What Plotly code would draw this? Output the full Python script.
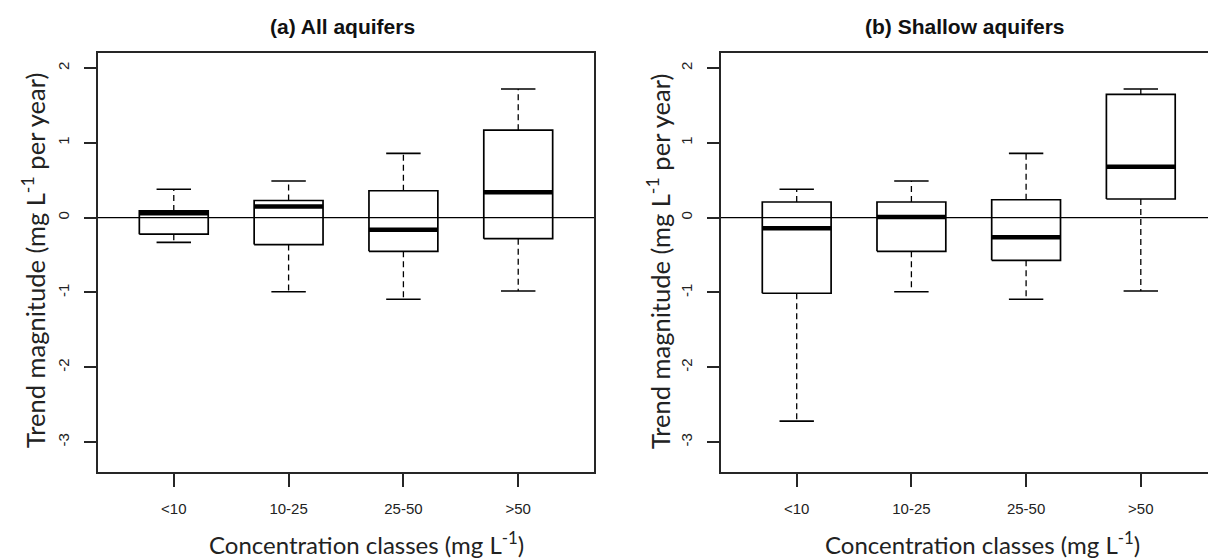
import plotly.graph_objects as go

# ---- data ----
categories = ["<10", "10-25", "25-50", ">50"]

# (a) All aquifers
a_lower  = [-0.33, -0.99, -1.09, -0.98]
a_q1     = [-0.22, -0.36, -0.45, -0.28]
a_median = [0.06, 0.15, -0.16, 0.34]
a_q3     = [0.09, 0.23, 0.36, 1.17]
a_upper  = [0.38, 0.49, 0.86, 1.72]

# (b) Shallow aquifers
b_lower  = [-2.72, -0.99, -1.09, -0.98]
b_q1     = [-1.01, -0.45, -0.57, 0.25]
b_median = [-0.14, 0.01, -0.26, 0.68]
b_q3     = [0.21, 0.21, 0.24, 1.65]
b_upper  = [0.38, 0.49, 0.86, 1.72]

panel_titles = ["<b>(a) All aquifers</b>", "<b>(b) Shallow aquifers</b>"]
x_title = "Concentration classes (mg L<sup>-1</sup>)"
y_title = "Trend magnitude (mg L<sup>-1</sup> per year)"
y_ticks = [-3, -2, -1, 0, 1, 2]

W, H = 1208, 558
BOXW = 0.6
CAPW = 0.3
TITLE_FONT = "Lato, Open Sans, sans-serif"
TICK_FONT = "Liberation Sans, Arial, sans-serif"

fig = go.Figure()


def add_panel(lower, q1, med, q3, upper, xa, ya):
    xs_box, ys_box = [], []
    xs_med, ys_med = [], []
    xs_wh, ys_wh = [], []
    xs_cap, ys_cap = [], []
    for i in range(len(categories)):
        l, r = i - BOXW / 2, i + BOXW / 2
        xs_box += [l, r, r, l, l, None]
        ys_box += [q1[i], q1[i], q3[i], q3[i], q1[i], None]
        xs_med += [l, r, None]
        ys_med += [med[i], med[i], None]
        xs_wh += [i, i, None, i, i, None]
        ys_wh += [q3[i], upper[i], None, q1[i], lower[i], None]
        cl, cr = i - CAPW / 2, i + CAPW / 2
        xs_cap += [cl, cr, None, cl, cr, None]
        ys_cap += [upper[i], upper[i], None, lower[i], lower[i], None]
    common = dict(xaxis=xa, yaxis=ya, mode="lines", hoverinfo="skip", showlegend=False)
    fig.add_trace(go.Scatter(x=xs_wh, y=ys_wh, line=dict(color="black", width=1.3, dash="6px,4px"), **common))
    fig.add_trace(go.Scatter(x=xs_cap, y=ys_cap, line=dict(color="black", width=1.6), **common))
    fig.add_trace(go.Scatter(x=xs_box, y=ys_box, fill="toself", fillcolor="white",
                             line=dict(color="black", width=1.7), **common))
    fig.add_trace(go.Scatter(x=xs_med, y=ys_med, line=dict(color="black", width=4.5), **common))


add_panel(a_lower, a_q1, a_median, a_q3, a_upper, "x", "y")
add_panel(b_lower, b_q1, b_median, b_q3, b_upper, "x2", "y2")

# empty traces so the label-only overlay axes are drawn
for xa, ya in [("x", "y3"), ("x2", "y4")]:
    fig.add_trace(go.Scatter(x=[None], y=[None], xaxis=xa, yaxis=ya, mode="lines",
                             hoverinfo="skip", showlegend=False))

ydom = [1 - 472 / H, 1 - 53 / H]
yrange = [-3.40, 2.202]
axcolor = "#262626"

xcommon = dict(
    tickmode="array", tickvals=list(range(len(categories))), ticktext=categories,
    ticks="outside", ticklen=13, tickwidth=1.5, tickcolor=axcolor,
    showline=True, linecolor=axcolor, linewidth=1.8, mirror=True,
    showgrid=False, zeroline=False, fixedrange=True,
    tickfont=dict(family=TICK_FONT, size=15, color="#222"),
    ticklabelstandoff=9,
)
# main y axes: line + tick marks only
ycommon = dict(
    range=yrange, tickmode="array", tickvals=y_ticks,
    ticks="outside", ticklen=12, tickwidth=1.5, tickcolor=axcolor,
    showline=True, linecolor=axcolor, linewidth=1.8, showticklabels=False,
    showgrid=False, zeroline=False, fixedrange=True,
)
# overlay y axes: tick labels only (rotated like R's las=0)
ylabels = dict(
    range=yrange, tickmode="array", tickvals=y_ticks, ticktext=[str(v) for v in y_ticks],
    ticks="outside", ticklen=22, tickcolor="rgba(0,0,0,0)", showline=False,
    showgrid=False, zeroline=False, fixedrange=True, tickangle=-90, side="left",
    tickfont=dict(family=TICK_FONT, size=15, color="#222"),
)

fig.update_layout(
    width=W, height=H,
    margin=dict(l=0, r=0, t=0, b=0),
    paper_bgcolor="white", plot_bgcolor="white",
    xaxis=dict(domain=[98 / W, 594 / W], range=[-0.66, 3.66], anchor="y", **xcommon),
    yaxis=dict(domain=ydom, anchor="x", mirror=True, **ycommon),
    xaxis2=dict(domain=[721 / W, 1.0], range=[-0.66, -0.66 + (W - 721) / 114.7], anchor="y2", **xcommon),
    yaxis2=dict(domain=ydom, anchor="x2", mirror=False, **ycommon),
    yaxis3=dict(overlaying="y", anchor="x", **ylabels),
    yaxis4=dict(overlaying="y2", anchor="x2", **ylabels),
)

# zero reference lines
for xr, yr in [("x domain", "y"), ("x2 domain", "y2")]:
    fig.add_shape(type="line", xref=xr, yref=yr, x0=0, x1=1, y0=0, y1=0,
                  line=dict(color="black", width=1.2), layer="above")

anns = []
for t, xc in zip(panel_titles, [342 / W, 965 / W]):
    anns.append(dict(text=t, x=xc, y=1 - 27 / H, xref="paper", yref="paper",
                     showarrow=False, xanchor="center", yanchor="middle",
                     font=dict(family="Liberation Sans, Arial, sans-serif", size=21, color="#111")))
for xc in [366 / W, 982 / W]:
    anns.append(dict(text=x_title, x=xc, y=1 - 543 / H, xref="paper", yref="paper",
                     showarrow=False, xanchor="center", yanchor="middle",
                     font=dict(family=TITLE_FONT, size=24, color="#222")))
for xc in [33 / W, 658 / W]:
    anns.append(dict(text=y_title, x=xc, y=1 - 261 / H, xref="paper", yref="paper",
                     showarrow=False, xanchor="center", yanchor="middle", textangle=-90,
                     font=dict(family=TITLE_FONT, size=25.5, color="#222")))
fig.update_layout(annotations=anns)

fig.write_html("out.html", config={"displayModeBar": False},
               post_script="document.body.style.margin='0';")
